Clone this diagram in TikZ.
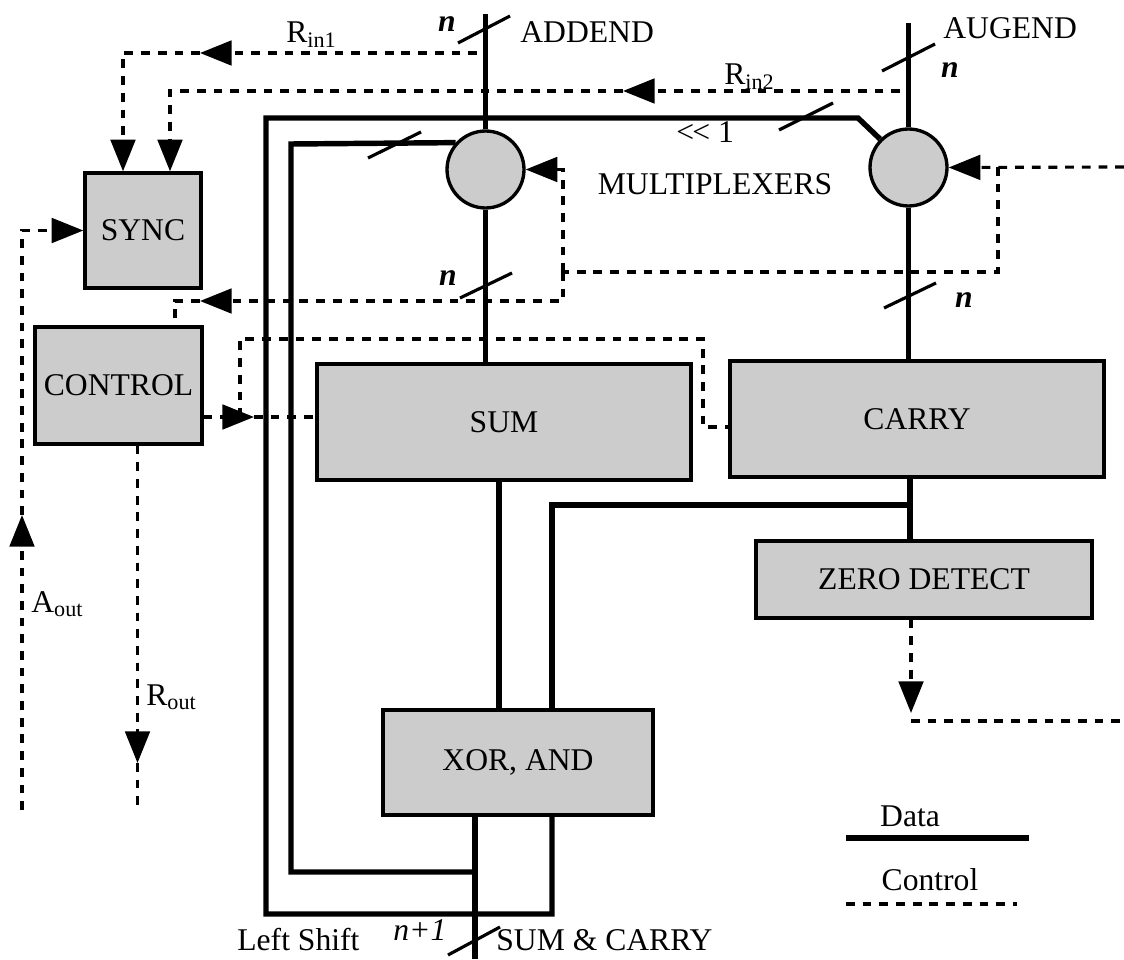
\documentclass[tikz,border=0pt]{standalone}
\usepackage{fontspec}
\setmainfont{Liberation Serif}
\usepackage{tikz}
\usetikzlibrary{arrows.meta,calc,positioning}

\tikzset{
  lbl/.style={inner sep=0pt,font=\fontsize{18}{21}\selectfont},
  blk/.style={lbl,draw,line width=1.9pt,fill=black!20},
  mux/.style={circle,draw,line width=1.9pt,fill=black!20,minimum size=1.54cm,inner sep=0pt},
  data/.style={line width=3.1pt},
  ctrl/.style={line width=1.8pt,dash pattern=on 5pt off 4.5pt},
  ctip/.style={-{Triangle[length=18pt,width=14pt]}},
  busmark/.style={line width=1.8pt},
}

\begin{document}
\begin{tikzpicture}[x=0.02cm,y=-0.02cm]
  \useasboundingbox (0,0) rectangle (1124,959);

  \node[blk,minimum width=2.32cm,minimum height=2.3cm] (sync) at (143,230.5) {SYNC};
  \node[blk,minimum width=3.34cm,minimum height=2.34cm] (control) at (118.5,385.5) {CONTROL};
  \node[blk,minimum width=7.48cm,minimum height=2.32cm] (sum) at (504,422) {SUM};
  \node[blk,minimum width=7.48cm,minimum height=2.32cm] (carry) at (917,419) {CARRY};
  \node[blk,minimum width=6.72cm,minimum height=1.54cm] (zero) at (924,579.5) {ZERO DETECT};
  \node[blk,minimum width=5.4cm,minimum height=2.1cm] (xor) at (518,762.5) {XOR, AND};
  \node[mux] (summux) at (485.5,169.5) {};
  \node[mux] (carrymux) at (908.5,167.5) {};

  \coordinate (addin) at (485.5,14);
  \coordinate (augin) at (908.5,23);
  \coordinate (sx) at (499,600);
  \coordinate (cx) at (910,505);
  \coordinate (cxor) at (552,505);
  \coordinate (res) at (475,959);
  \coordinate (fbin) at (291,872);
  \coordinate (fbout) at (266,914);

  \draw[data] (addin) -- (summux.north);
  \draw[data] (summux.south) -- (sum.north -| summux);
  \draw[data] (augin) -- (carrymux.north);
  \draw[data] (carrymux.south) -- (carry.north -| carrymux);
  \draw[data] (sum.south -| sx) -- (xor.north -| sx);
  \draw[data] (carry.south -| cx) -- (zero.north -| cx);
  \draw[data] (cx) -- (cxor) -- (xor.north -| cxor);
  \draw[data] (xor.south -| res) -- (res);
  \draw[data] (fbin -| res) -| (291,144) -- (summux.138);
  \draw[data] (xor.south -| cxor) |- (fbout) |- (858,118) -- (carrymux.135);

  \coordinate (s1) at (123,0);
  \coordinate (s2) at (170,0);
  \coordinate (c1) at (175,0);
  \coordinate (r1) at (137.5,0);
  \coordinate (cs) at (254,417);
  \coordinate (cw) at (703,427);
  \coordinate (zd) at (911,713);

  \draw[ctrl,ctip] (477,53) -- (200,53);
  \draw[ctrl,ctip] (200,53) -| (sync.north -| s1);
  \draw[ctrl,ctip] (900,91) -- (623,91);
  \draw[ctrl,ctip] (623,91) -| (sync.north -| s2);
  \draw[ctrl,ctip] (1124,167) -- (carrymux.east);
  \draw[ctrl] (998,167) |- (563,272);
  \draw[ctrl,ctip] (563,272) |- (summux.east);
  \draw[ctrl,ctip] (563,272) |- (200,301);
  \draw[ctrl] (200,301) -| (control.north -| c1);
  \draw[ctrl,ctip] (control.east |- cs) -- (cs);
  \draw[ctrl] (cs) -- (sum.west |- cs);
  \draw[ctrl] (240,417) |- (703,339) -- (cw) -- (carry.west |- cw);
  \draw[ctrl,ctip] (22,810) -- (22,515);
  \draw[ctrl,ctip] (22,515) |- (sync.west);
  \draw[ctrl,ctip] (control.south -| r1) -- (137.5,763);
  \draw[ctrl] (137.5,763) -- (137.5,812);
  \draw[ctrl,ctip] (zero.south -| zd) -- (zd);
  \draw[ctrl] (911,721) -- (1124,721);

  \draw[busmark] (458,43) -- (510,16);
  \draw[busmark] (882,71) -- (935,44);
  \draw[busmark] (368,158) -- (421,132);
  \draw[busmark] (779,130) -- (833,103);
  \draw[busmark] (460,298) -- (512,273);
  \draw[busmark] (884,308) -- (936,283);
  \draw[busmark] (448,955) -- (500,927);

  \node[lbl] (nadd) at (447,24) {\textbf{\textit{n}}};
  \node[lbl,anchor=west] (addend) at (520,32) {ADDEND};
  \node[lbl,anchor=west] (augend) at (943,28) {AUGEND};
  \node[lbl] (naug) at (950,70) {\textbf{\textit{n}}};
  \node[lbl,anchor=base west] (rin1) at (286,43) {R\textsubscript{in1}};
  \node[lbl,anchor=base west] (rin2) at (724,85) {R\textsubscript{in2}};
  \node[lbl,anchor=base west] (shl) at (676,143) {<\kern-1pt< 1};
  \node[lbl] (muxlbl) at (715,184) {MULTIPLEXERS};
  \node[lbl] (nsum) at (448,278) {\textbf{\textit{n}}};
  \node[lbl] (ncarry) at (964,300) {\textbf{\textit{n}}};
  \node[lbl,anchor=base west] (aout) at (31,612) {A\textsubscript{out}};
  \node[lbl,anchor=base west] (rout) at (146,705) {R\textsubscript{out}};
  \node[lbl,anchor=base west] (lshift) at (237,950) {Left Shift};
  \node[lbl,anchor=base west] (nplus) at (393,940) {\textit{n+1}};
  \node[lbl,anchor=base west] (sumcarry) at (496,950) {SUM \& CARRY};
  \node[lbl] (datalbl) at (910,816) {Data};
  \node[lbl] (ctrllbl) at (930,880) {Control};

  \draw[data] (846,838) -- (1029,838);
  \draw[ctrl] (846,904) -- (1017,904);
\end{tikzpicture}
\end{document}
